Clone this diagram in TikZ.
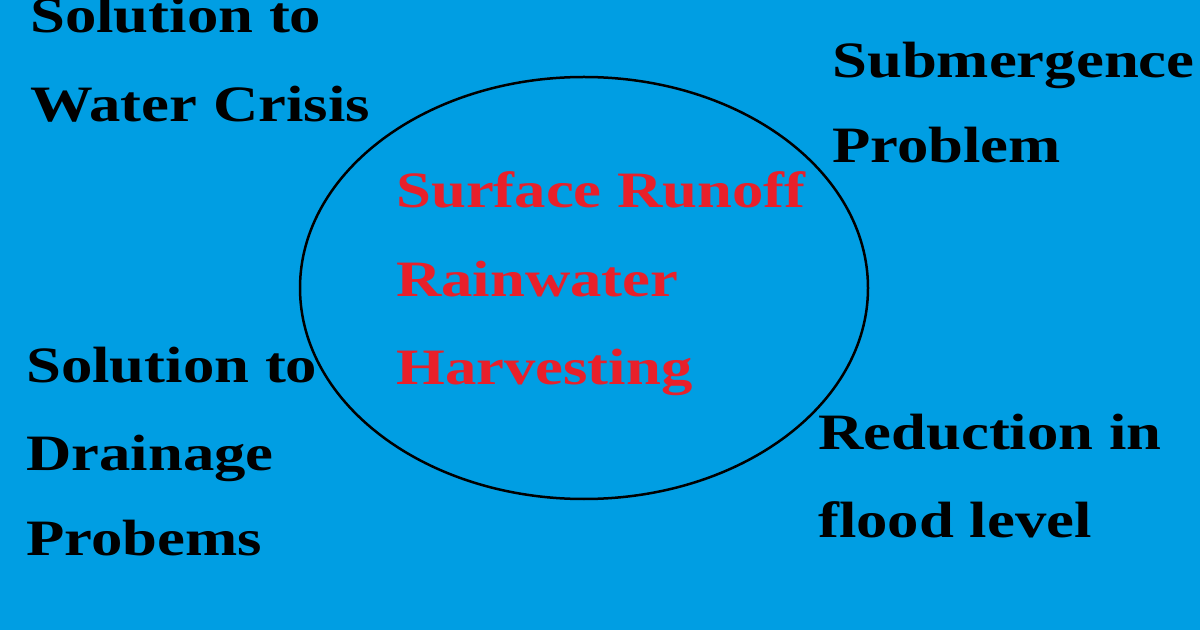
\documentclass[tikz,border=0pt]{standalone}
\usepackage{fontspec}
\setmainfont{Liberation Serif}
\definecolor{bg}{HTML}{009EE3}
\definecolor{redt}{HTML}{E8202A}
\begin{document}
\begin{tikzpicture}[x=1pt,y=1pt,
  lbl/.style={anchor=base west,inner sep=0pt,xscale=1.23,font=\fontsize{51}{51}\selectfont\bfseries},
  ctr/.style={lbl,text=redt}]
\fill[bg] (0,0) rectangle (1200,630);
\useasboundingbox (0,0) rectangle (1200,630);
\draw[line width=2.5pt] (584,342) ellipse [x radius=284, y radius=211];
\node[lbl] (a1) at (30,597) {Solution to};
\node[lbl] (a2) at (30,508) {Water Crisis};
\node[lbl] (b1) at (832,552) {Submergence};
\node[lbl] (b2) at (832,467) {Problem};
\node[lbl] (c1) at (26,247) {Solution to};
\node[lbl] (c2) at (26,160) {Drainage};
\node[lbl] (c3) at (26,75) {Probems};
\node[lbl] (d1) at (818,180) {Reduction in};
\node[lbl] (d2) at (818,93) {flood level};
\node[ctr] (e1) at (396,422) {Surface Runoff};
\node[ctr] (e2) at (396,333) {Rainwater};
\node[ctr] (e3) at (396,245) {Harvesting};
\end{tikzpicture}
\end{document}
